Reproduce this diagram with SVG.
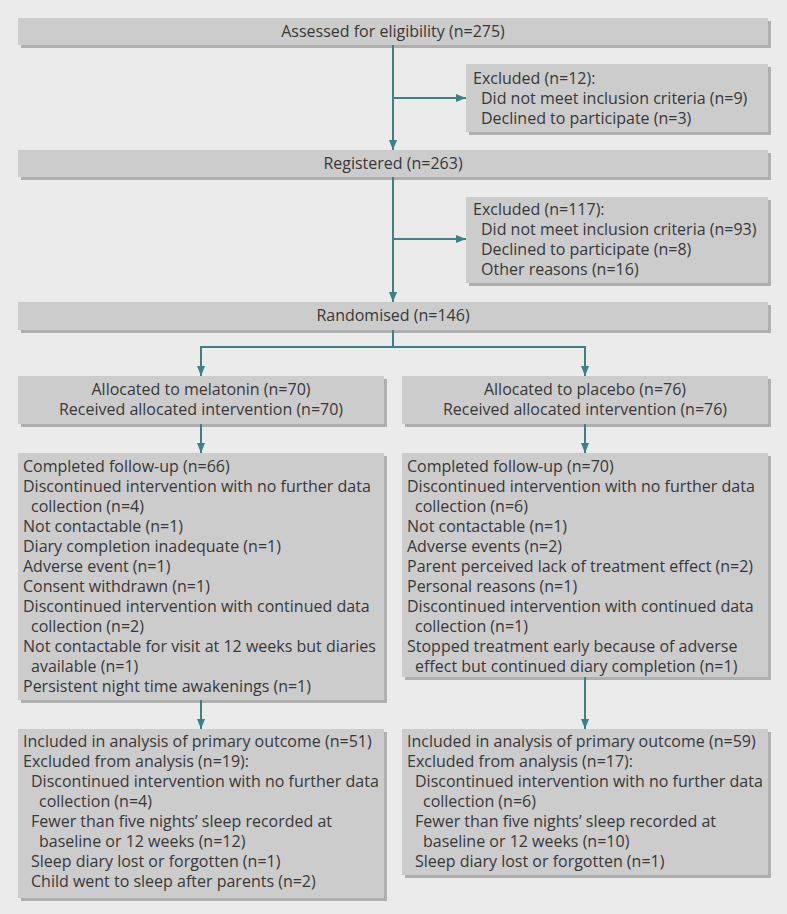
<svg xmlns="http://www.w3.org/2000/svg" width="787" height="914" viewBox="0 0 787 914">
<defs>
<marker id="ah" viewBox="0 0 10 10" refX="10" refY="5" markerWidth="10" markerHeight="10" markerUnits="userSpaceOnUse" orient="auto">
<path d="M0,1 L10,5 L0,9 Z" fill="#3a8383"/>
</marker>
</defs>
<style>
.bg{fill:#ebebeb}
.box{fill:#cccccc}
.sh{fill:#afafaf}
text{font-family:"Open Sans","Noto Sans","Liberation Sans",sans-serif;font-size:16px;fill:#383838}
.c{text-anchor:middle}
.ln{stroke:#3a8383;stroke-width:2;fill:none}
</style>
<rect class="bg" x="0" y="0" width="787" height="914"/>
<g id="n-assessed">
<rect class="sh" x="21" y="21" width="750" height="27"/>
<rect class="box" x="18" y="18" width="750" height="27"/>
<text class="c" x="393" y="37">Assessed for eligibility (n=275)</text>
</g>
<g id="n-excl1">
<rect class="sh" x="469" y="67" width="302" height="68"/>
<rect class="box" x="466" y="64" width="302" height="68"/>
<text x="473" y="84">Excluded (n=12):</text>
<text x="481" y="104">Did not meet inclusion criteria (n=9)</text>
<text x="481" y="124">Declined to participate (n=3)</text>
</g>
<g id="n-registered">
<rect class="sh" x="21" y="153" width="750" height="27"/>
<rect class="box" x="18" y="150" width="750" height="27"/>
<text class="c" x="393" y="169">Registered (n=263)</text>
</g>
<g id="n-excl2">
<rect class="sh" x="469" y="200" width="302" height="86"/>
<rect class="box" x="466" y="197" width="302" height="86"/>
<text x="473" y="215">Excluded (n=117):</text>
<text x="481" y="235">Did not meet inclusion criteria (n=93)</text>
<text x="481" y="255">Declined to participate (n=8)</text>
<text x="481" y="275">Other reasons (n=16)</text>
</g>
<g id="n-randomised">
<rect class="sh" x="21" y="305" width="750" height="28"/>
<rect class="box" x="18" y="302" width="750" height="28"/>
<text class="c" x="393" y="321">Randomised (n=146)</text>
</g>
<g id="n-alloc-mel">
<rect class="sh" x="21" y="379" width="366" height="48"/>
<rect class="box" x="18" y="376" width="366" height="48"/>
<text class="c" x="201" y="395">Allocated to melatonin (n=70)</text>
<text class="c" x="201" y="415">Received allocated intervention (n=70)</text>
</g>
<g id="n-alloc-pla">
<rect class="sh" x="405" y="379" width="366" height="48"/>
<rect class="box" x="402" y="376" width="366" height="48"/>
<text class="c" x="585" y="395">Allocated to placebo (n=76)</text>
<text class="c" x="585" y="415">Received allocated intervention (n=76)</text>
</g>
<g id="n-follow-mel">
<rect class="sh" x="21" y="456" width="366" height="247"/>
<rect class="box" x="18" y="453" width="366" height="247"/>
<text x="23" y="472">Completed follow-up (n=66)</text>
<text x="23" y="492">Discontinued intervention with no further data</text>
<text x="31" y="512">collection (n=4)</text>
<text x="23" y="532">Not contactable (n=1)</text>
<text x="23" y="552">Diary completion inadequate (n=1)</text>
<text x="23" y="572">Adverse event (n=1)</text>
<text x="23" y="592">Consent withdrawn (n=1)</text>
<text x="23" y="612">Discontinued intervention with continued data</text>
<text x="31" y="632">collection (n=2)</text>
<text x="23" y="652">Not contactable for visit at 12 weeks but diaries</text>
<text x="31" y="672">available (n=1)</text>
<text x="23" y="692">Persistent night time awakenings (n=1)</text>
</g>
<g id="n-follow-pla">
<rect class="sh" x="405" y="456" width="366" height="224"/>
<rect class="box" x="402" y="453" width="366" height="224"/>
<text x="407" y="472">Completed follow-up (n=70)</text>
<text x="407" y="492">Discontinued intervention with no further data</text>
<text x="415" y="512">collection (n=6)</text>
<text x="407" y="532">Not contactable (n=1)</text>
<text x="407" y="552">Adverse events (n=2)</text>
<text x="407" y="572">Parent perceived lack of treatment effect (n=2)</text>
<text x="407" y="592">Personal reasons (n=1)</text>
<text x="407" y="612">Discontinued intervention with continued data</text>
<text x="415" y="632">collection (n=1)</text>
<text x="407" y="652">Stopped treatment early because of adverse</text>
<text x="415" y="672">effect but continued diary completion (n=1)</text>
</g>
<g id="n-anal-mel">
<rect class="sh" x="21" y="732" width="366" height="169"/>
<rect class="box" x="18" y="729" width="366" height="169"/>
<text x="23" y="747">Included in analysis of primary outcome (n=51)</text>
<text x="23" y="767">Excluded from analysis (n=19):</text>
<text x="31" y="787">Discontinued intervention with no further data</text>
<text x="39" y="807">collection (n=4)</text>
<text x="31" y="827">Fewer than five nights’ sleep recorded at</text>
<text x="39" y="847">baseline or 12 weeks (n=12)</text>
<text x="31" y="867">Sleep diary lost or forgotten (n=1)</text>
<text x="31" y="887">Child went to sleep after parents (n=2)</text>
</g>
<g id="n-anal-pla">
<rect class="sh" x="405" y="732" width="366" height="146"/>
<rect class="box" x="402" y="729" width="366" height="146"/>
<text x="407" y="747">Included in analysis of primary outcome (n=59)</text>
<text x="407" y="767">Excluded from analysis (n=17):</text>
<text x="415" y="787">Discontinued intervention with no further data</text>
<text x="423" y="807">collection (n=6)</text>
<text x="415" y="827">Fewer than five nights’ sleep recorded at</text>
<text x="423" y="847">baseline or 12 weeks (n=10)</text>
<text x="415" y="867">Sleep diary lost or forgotten (n=1)</text>
</g>
<g id="connectors">
<line class="ln" x1="393" y1="45" x2="393" y2="150" marker-end="url(#ah)"/>
<line class="ln" x1="393" y1="98" x2="466" y2="98" marker-end="url(#ah)"/>
<line class="ln" x1="393" y1="177" x2="393" y2="302" marker-end="url(#ah)"/>
<line class="ln" x1="393" y1="239" x2="466" y2="239" marker-end="url(#ah)"/>
<polyline class="ln" points="393,330 393,347 201,347 201,376" marker-end="url(#ah)"/>
<polyline class="ln" points="393,347 585,347 585,376" marker-end="url(#ah)"/>
<line class="ln" x1="201" y1="424" x2="201" y2="453" marker-end="url(#ah)"/>
<line class="ln" x1="585" y1="424" x2="585" y2="453" marker-end="url(#ah)"/>
<line class="ln" x1="201" y1="700" x2="201" y2="729" marker-end="url(#ah)"/>
<line class="ln" x1="585" y1="677" x2="585" y2="729" marker-end="url(#ah)"/>
</g>
</svg>
